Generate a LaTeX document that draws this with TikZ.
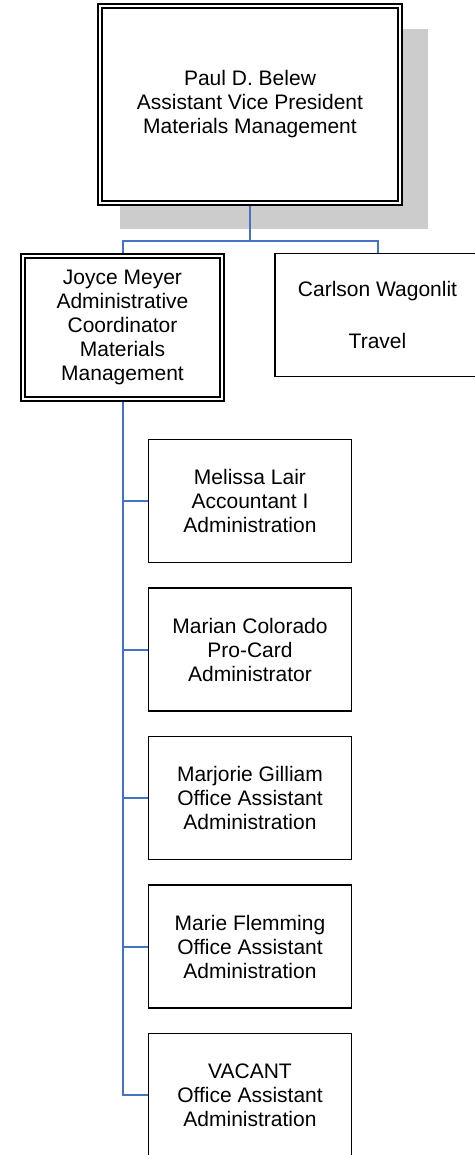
\documentclass[tikz,border=0pt]{standalone}
\usepackage{fontspec}
\setmainfont{Liberation Sans}
\usetikzlibrary{backgrounds}
\definecolor{linkblue}{RGB}{68,114,196}
\definecolor{shadowgray}{RGB}{204,204,204}
\begin{document}
\begin{tikzpicture}[x=1pt,y=-1pt,
  box/.style={draw=black, line width=1.8pt, fill=white, align=center,
    inner sep=0pt, outer sep=0pt, font=\fontsize{21}{24}\selectfont},
  dbox/.style={box, line width=2pt, double=white, double distance=2pt},
  childbox/.style={box, minimum width=203pt, minimum height=123pt},
  connline/.style={draw=linkblue, line width=2pt}]
\useasboundingbox (0,0) rectangle (474,1155);

\node[dbox, minimum width=300pt, minimum height=197pt] (top) at (250,104.5)
  {Paul D. Belew\\Assistant Vice President\\Materials Management};
\node[dbox, minimum width=199pt, minimum height=143pt] (joyce) at (122.5,327.5)
  {Joyce Meyer\\Administrative\\Coordinator\\Materials\\Management};
\node[box, minimum width=205pt, minimum height=123pt] (carlson) at (377.5,315)
  {Carlson Wagonlit\\[28pt]Travel};

\node[childbox] (c1) at (250,501)   {Melissa Lair\\Accountant I\\Administration};
\node[childbox] (c2) at (250,649.5) {Marian Colorado\\Pro-Card\\Administrator};
\node[childbox] (c3) at (250,798)   {Marjorie Gilliam\\Office Assistant\\Administration};
\node[childbox] (c4) at (250,946.5) {Marie Flemming\\Office Assistant\\Administration};
\node[childbox] (c5) at (250,1095)  {VACANT\\Office Assistant\\Administration};

\begin{scope}[on background layer]
  \fill[shadowgray] (120,29) rectangle (428,229);
  \coordinate (bus) at (250,241);
  \draw[connline] (top.south) -- (bus);
  \draw[connline] (joyce.north) |- (bus) -| (carlson.north);
  \draw[connline] (joyce.south) |- (c5.west);
  \draw[connline] (joyce.south |- c1.west) -- (c1.west);
  \draw[connline] (joyce.south |- c2.west) -- (c2.west);
  \draw[connline] (joyce.south |- c3.west) -- (c3.west);
  \draw[connline] (joyce.south |- c4.west) -- (c4.west);
\end{scope}
\end{tikzpicture}
\end{document}
